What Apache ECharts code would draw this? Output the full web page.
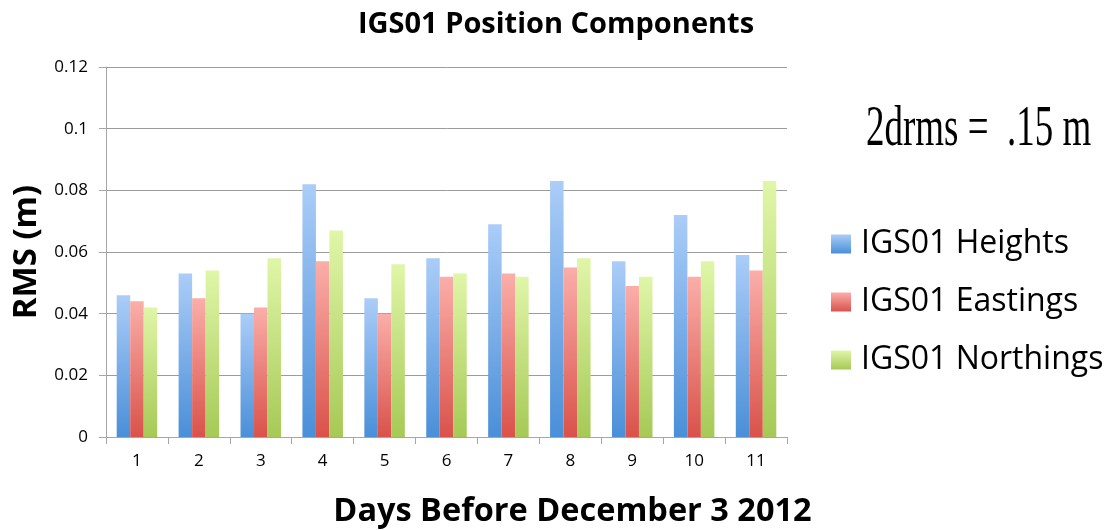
<!DOCTYPE html>
<html>
<head>
<meta charset="utf-8">
<script src="https://cdn.jsdelivr.net/npm/echarts@6/dist/echarts.min.js"></script>
<style>
  html, body { margin: 0; padding: 0; background: #fff; }
  #chart { width: 1116px; height: 530px; }
</style>
</head>
<body>
<div id="chart"></div>
<script>
// Days before December 3 2012
const days = ['1', '2', '3', '4', '5', '6', '7', '8', '9', '10', '11'];

// RMS of each position component (metres)
const heights   = [0.046, 0.053, 0.040, 0.082, 0.045, 0.058, 0.069, 0.083, 0.057, 0.072, 0.059];
const eastings  = [0.044, 0.045, 0.042, 0.057, 0.040, 0.052, 0.053, 0.055, 0.049, 0.052, 0.054];
const northings = [0.042, 0.054, 0.058, 0.067, 0.056, 0.053, 0.052, 0.058, 0.052, 0.057, 0.083];

const seriesNames = ['IGS01 Heights', 'IGS01 Eastings', 'IGS01 Northings'];

function grad(top, bottom) {
  return new echarts.graphic.LinearGradient(0, 0, 0, 1, [
    { offset: 0, color: top },
    { offset: 1, color: bottom }
  ]);
}

const fills = [
  grad('#abcdf8', '#4a8fd8'),
  grad('#fbaea9', '#d9524b'),
  grad('#e0f6a8', '#a6c956')
];

const chart = echarts.init(document.getElementById('chart'), null, { renderer: 'canvas' });

const axisGray = '#a6a6a6';
const font = '"Open Sans", sans-serif';

chart.setOption({
  backgroundColor: '#ffffff',
  animation: false,
  title: {
    text: 'IGS01 Position Components',
    left: 551, top: 5, textAlign: 'center',
    textStyle: { fontFamily: font, fontWeight: 'bold', fontSize: 29, color: '#000' }
  },
  legend: {
    orient: 'vertical',
    left: 826, top: 220,
    itemWidth: 20, itemHeight: 19, itemGap: 20,
    icon: 'rect',
    textStyle: { fontFamily: font, fontSize: 32, color: '#000', lineHeight: 38, padding: [0, 0, 0, 5] },
    data: seriesNames
  },
  grid: {
    left: 106, right: 329, top: 67, bottom: 93,
    containLabel: false,
    outerBoundsMode: 'none'
  },
  xAxis: {
    type: 'category',
    data: days,
    name: 'Days Before December 3 2012',
    nameLocation: 'middle',
    nameGap: 58,
    nameTextStyle: {
      fontFamily: font, fontWeight: 'bold', fontSize: 32.5, color: '#000',
      padding: [0, 0, 0, 252]
    },
    axisLine: { lineStyle: { color: axisGray, width: 1 } },
    axisTick: { show: true, alignWithLabel: false, length: 7, lineStyle: { color: axisGray } },
    axisLabel: { fontFamily: font, fontSize: 17, color: '#000', margin: 16 }
  },
  yAxis: {
    type: 'value',
    min: 0, max: 0.12, interval: 0.02,
    name: 'RMS (m)',
    nameLocation: 'middle',
    nameGap: 61,
    nameTextStyle: { fontFamily: font, fontWeight: 'bold', fontSize: 33, color: '#000' },
    axisLine: { show: true, lineStyle: { color: axisGray, width: 1 } },
    axisTick: { show: true, length: 7, lineStyle: { color: axisGray } },
    axisLabel: { fontFamily: font, fontSize: 17, color: '#000', margin: 18 },
    splitLine: { lineStyle: { color: '#9c9c9c', width: 1 } }
  },
  series: [heights, eastings, northings].map((vals, i) => ({
    name: seriesNames[i],
    type: 'bar',
    data: vals,
    barWidth: 13.5,
    barGap: '0%',
    itemStyle: { color: fills[i] }
  })),
  graphic: [{
    type: 'text',
    left: 866, top: 102,
    scaleX: 0.66,
    style: {
      text: '2drms =  .15 m',
      font: '56px "Liberation Serif", "Times New Roman", serif',
      fill: '#000'
    }
  }]
});
</script>
</body>
</html>
